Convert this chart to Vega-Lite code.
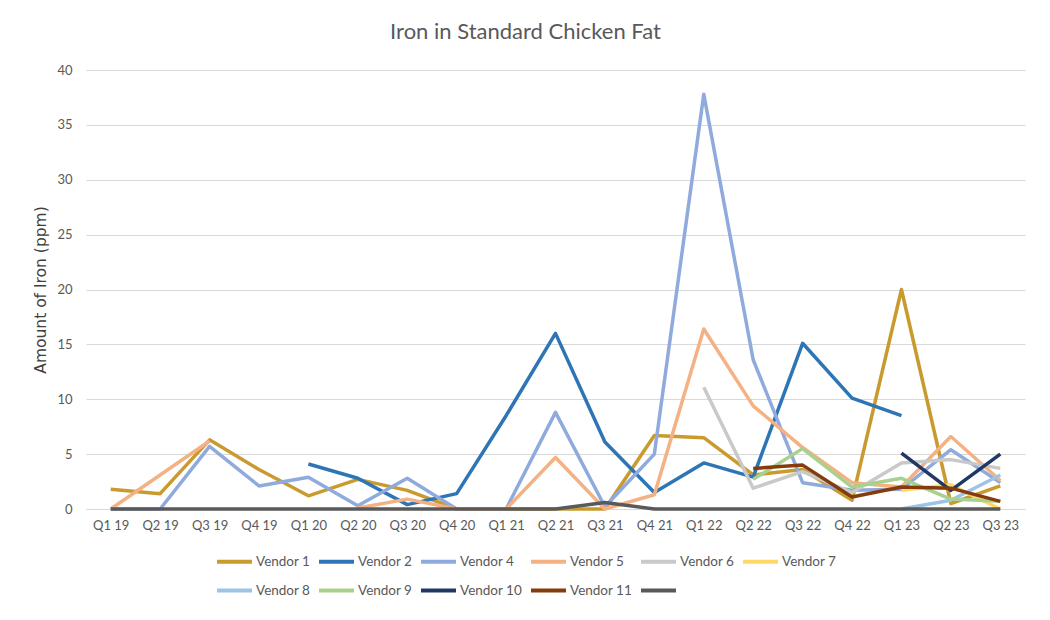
{
  "$schema": "https://vega.github.io/schema/vega-lite/v6.json",
  "autosize": {"type": "none"},
  "width": 939,
  "height": 439,
  "padding": {"left": 86, "top": 70, "right": 25, "bottom": 111},
  "background": "white",
  "title": {
    "text": "Iron in Standard Chicken Fat",
    "font": "Lato",
    "fontSize": 22,
    "fontWeight": "normal",
    "color": "#595959",
    "anchor": "middle",
    "dx": -30,
    "offset": 20
  },
  "data": {
    "values": [
      {"q": "Q1 19", "Vendor 1": 1.8, "Vendor 4": 0, "Vendor 5": 0, "Other": 0},
      {"q": "Q2 19", "Vendor 1": 1.4, "Vendor 4": 0, "Vendor 5": 3.1, "Other": 0},
      {"q": "Q3 19", "Vendor 1": 6.3, "Vendor 4": 5.7, "Vendor 5": 6.2, "Other": 0},
      {"q": "Q4 19", "Vendor 1": 3.6, "Vendor 4": 2.1, "Other": 0},
      {"q": "Q1 20", "Vendor 1": 1.2, "Vendor 2": 4.1, "Vendor 4": 2.9, "Other": 0},
      {"q": "Q2 20", "Vendor 1": 2.7, "Vendor 2": 2.8, "Vendor 4": 0.3, "Vendor 5": 0.1, "Other": 0},
      {"q": "Q3 20", "Vendor 1": 1.7, "Vendor 2": 0.4, "Vendor 4": 2.8, "Vendor 5": 0.9, "Other": 0},
      {"q": "Q4 20", "Vendor 1": 0, "Vendor 2": 1.4, "Vendor 4": 0, "Vendor 5": 0, "Other": 0},
      {"q": "Q1 21", "Vendor 1": 0, "Vendor 2": 8.5, "Vendor 4": 0, "Vendor 5": 0, "Other": 0},
      {"q": "Q2 21", "Vendor 1": 0, "Vendor 2": 16.0, "Vendor 4": 8.8, "Vendor 5": 4.7, "Other": 0},
      {"q": "Q3 21", "Vendor 1": 0, "Vendor 2": 6.1, "Vendor 4": 0.2, "Vendor 5": 0, "Other": 0.6},
      {"q": "Q4 21", "Vendor 1": 6.7, "Vendor 2": 1.5, "Vendor 4": 5.0, "Vendor 5": 1.3, "Other": 0},
      {"q": "Q1 22", "Vendor 1": 6.5, "Vendor 2": 4.2, "Vendor 4": 37.8, "Vendor 5": 16.4, "Vendor 6": 11.1, "Other": 0},
      {"q": "Q2 22", "Vendor 1": 3.1, "Vendor 2": 2.9, "Vendor 4": 13.6, "Vendor 5": 9.4, "Vendor 6": 1.9, "Vendor 9": 2.7, "Vendor 11": 3.7, "Other": 0},
      {"q": "Q3 22", "Vendor 1": 3.6, "Vendor 2": 15.1, "Vendor 4": 2.4, "Vendor 5": 5.6, "Vendor 6": 3.4, "Vendor 9": 5.5, "Vendor 11": 4.0, "Other": 0},
      {"q": "Q4 22", "Vendor 1": 0.8, "Vendor 2": 10.1, "Vendor 4": 1.7, "Vendor 5": 2.4, "Vendor 6": 1.5, "Vendor 9": 2.0, "Vendor 11": 1.1, "Other": 0},
      {"q": "Q1 23", "Vendor 1": 20.0, "Vendor 2": 8.5, "Vendor 4": 1.8, "Vendor 5": 2.0, "Vendor 6": 4.2, "Vendor 7": 1.7, "Vendor 8": 0, "Vendor 9": 2.8, "Vendor 10": 5.1, "Vendor 11": 2.0, "Other": 0},
      {"q": "Q2 23", "Vendor 1": 0.5, "Vendor 4": 5.4, "Vendor 5": 6.6, "Vendor 6": 4.5, "Vendor 7": 2.2, "Vendor 8": 0.8, "Vendor 9": 0.9, "Vendor 10": 1.7, "Vendor 11": 1.9, "Other": 0},
      {"q": "Q3 23", "Vendor 1": 2.1, "Vendor 4": 2.4, "Vendor 5": 2.6, "Vendor 6": 3.7, "Vendor 7": 0, "Vendor 8": 3.1, "Vendor 9": 0.7, "Vendor 10": 5.0, "Vendor 11": 0.7, "Other": 0}
    ]
  },
  "transform": [
    {"fold": ["Vendor 1", "Vendor 2", "Vendor 4", "Vendor 5", "Vendor 6", "Vendor 7", "Vendor 8", "Vendor 9", "Vendor 10", "Vendor 11", "Other"], "as": ["vendor", "iron"]}
  ],
  "mark": {"type": "line", "strokeWidth": 3.5, "invalid": "break-paths-show-domains", "strokeJoin": "round"},
  "encoding": {
    "x": {
      "field": "q",
      "type": "ordinal",
      "sort": null,
      "scale": {"type": "point", "padding": 0.5},
      "axis": {
        "title": null,
        "labelAngle": 0,
        "labelFont": "Lato",
        "labelFontSize": 13,
        "labelColor": "#595959",
        "labelPadding": 10,
        "ticks": false,
        "domainColor": "#D9D9D9",
        "domainWidth": 1,
        "grid": false
      }
    },
    "y": {
      "field": "iron",
      "type": "quantitative",
      "scale": {"domain": [0, 40], "nice": false},
      "axis": {
        "title": "Amount of Iron (ppm)",
        "titleFont": "DejaVu Sans",
        "titleFontSize": 15.5,
        "titleFontWeight": "normal",
        "titleColor": "#404040",
        "titlePadding": 8,
        "values": [0, 5, 10, 15, 20, 25, 30, 35, 40],
        "labelFont": "Lato",
        "labelFontSize": 13,
        "labelColor": "#595959",
        "labelPadding": 14,
        "ticks": false,
        "domain": false,
        "gridColor": "#D9D9D9",
        "gridWidth": 1
      }
    },
    "color": {
      "field": "vendor",
      "type": "nominal",
      "sort": null,
      "scale": {
        "domain": ["Vendor 1", "Vendor 2", "Vendor 4", "Vendor 5", "Vendor 6", "Vendor 7", "Vendor 8", "Vendor 9", "Vendor 10", "Vendor 11", "Other"],
        "range": ["#C99A2E", "#2E75B6", "#8FAADC", "#F4B183", "#C9C9C9", "#FFD966", "#9DC3E6", "#A9D18E", "#203864", "#843C0C", "#595959"]
      },
      "legend": {
        "title": null,
        "orient": "none",
        "legendX": 129,
        "legendY": 472,
        "direction": "horizontal",
        "columns": 6,
        "symbolType": "stroke",
        "symbolSize": 1225,
        "symbolStrokeWidth": 4,
        "labelFont": "Lato",
        "labelFontSize": 13.5,
        "labelColor": "#595959",
        "labelOffset": 2,
        "columnPadding": 0,
        "rowPadding": 1,
        "labelExpr": "datum.label == 'Other' ? '' : datum.label"
      }
    }
  },
  "config": {
    "view": {"stroke": null}
  }
}
